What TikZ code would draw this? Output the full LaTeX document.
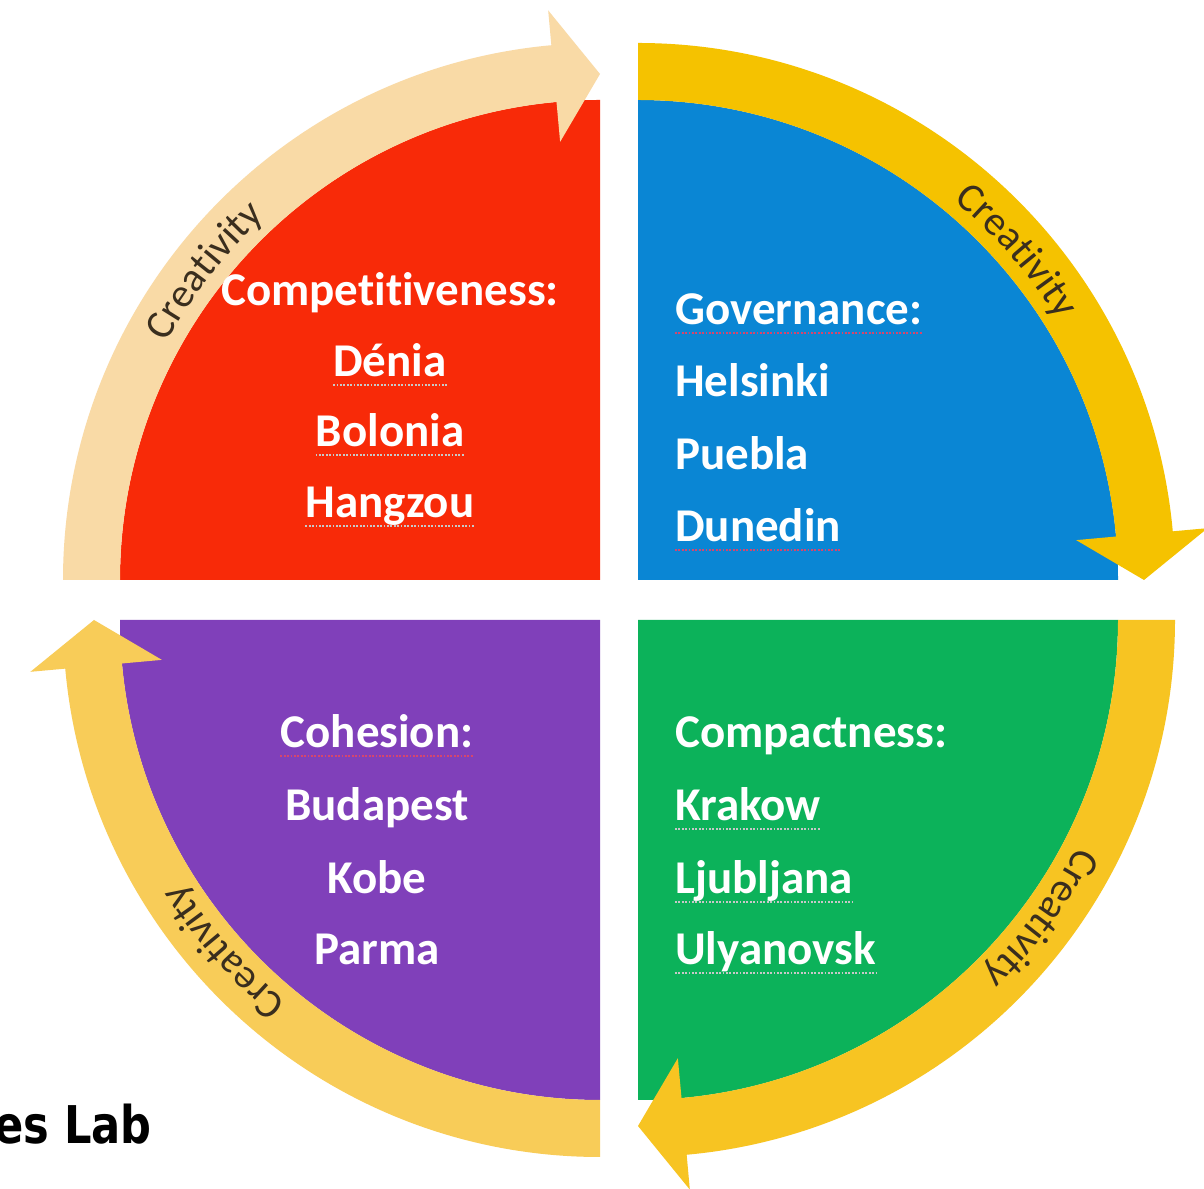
\documentclass[tikz,border=0pt]{standalone}
\usepackage{fontspec}
\setmainfont[Ligatures=NoCommon]{Carlito}
\newfontfamily\labfont[FakeStretch=0.83]{DejaVu Sans}
\usetikzlibrary{decorations.text,calc}
\definecolor{qred}{RGB}{248,42,8}
\definecolor{qblue}{RGB}{10,134,212}
\definecolor{qgreen}{RGB}{12,178,90}
\definecolor{qpurple}{RGB}{128,64,186}
\definecolor{bandcream}{RGB}{249,218,166}
\definecolor{bandgoldA}{RGB}{245,194,0}
\definecolor{bandgoldB}{RGB}{247,196,34}
\definecolor{bandgoldC}{RGB}{248,204,88}
\definecolor{crtext}{RGB}{58,46,30}
\definecolor{sqred}{RGB}{214,70,110}
\definecolor{sqgray}{RGB}{200,200,200}
\newcommand\crfont{\fontsize{41}{41}\selectfont\color{crtext}}
\newcommand\creaband[3]{%
  \begin{scope}[shift={(#1)}]
    \fill[#3] ({#2}:537) arc[start angle={#2}, end angle={#2-84.8}, radius=537]
      -- ({#2-84.8}:572) -- ({#2-90}:506) -- ({#2-84.8}:440)
      -- ({#2-84.8}:480) arc[start angle={#2-84.8}, end angle={#2}, radius=480] -- cycle;
  \end{scope}}
\newcommand\creatext[2]{%
  \begin{scope}[shift={(#1)}]
    \path[decorate,decoration={text along path,text align=center,text={|\crfont|Creativity}}]
      ({#2+17}:494) arc[start angle={#2+17}, end angle={#2-17}, radius=494];
  \end{scope}}
\begin{document}
\begin{tikzpicture}[x=1pt,y=1pt,
  lbl/.style={text=white,inner sep=0pt,font=\fontsize{47}{56}\selectfont\bfseries},
  sqr/.style={draw=sqred,line width=1.8pt,dash pattern=on 1.8pt off 1.6pt},
  sqg/.style={draw=sqgray,line width=1.8pt,dash pattern=on 1.8pt off 1.6pt}]
\useasboundingbox (0,0) rectangle (1204,1188);
\fill[white] (0,0) rectangle (1204,1188);
\coordinate (cTL) at (600,608);
\coordinate (cTR) at (638,608);
\coordinate (cBR) at (638,568);
\coordinate (cBL) at (600,568);
% quadrants
\fill[qred] (cTL) -- ++(180:480) arc[start angle=180,end angle=90,radius=480] -- cycle;
\fill[qblue] (cTR) -- ++(90:480) arc[start angle=90,end angle=0,radius=480] -- cycle;
\fill[qgreen] (cBR) -- ++(0:480) arc[start angle=0,end angle=-90,radius=480] -- cycle;
\fill[qpurple] (cBL) -- ++(270:480) arc[start angle=270,end angle=180,radius=480] -- cycle;
% bands
\creaband{cTL}{180}{bandcream}
\creaband{cTR}{90}{bandgoldA}
\creaband{cBR}{0}{bandgoldB}
\creaband{cBL}{270}{bandgoldC}
% creativity labels
\creatext{cTL}{142}
\creatext{cTR}{41}
\creatext{cBR}{-36.5}
\creatext{cBL}{221.4}
% red quadrant
\node[lbl,anchor=base] (r0) at (390,882) {Competitiveness:};
\node[lbl,anchor=base] (r1) at (390,811) {Dénia};
\node[lbl,anchor=base] (r2) at (390,741) {Bolonia};
\node[lbl,anchor=base] (r3) at (390,670) {Hangzou};
% blue quadrant
\node[lbl,anchor=base west] (b0) at (675,863) {Governance:};
\node[lbl,anchor=base west] (b1) at (675,791) {Helsinki};
\node[lbl,anchor=base west] (b2) at (675,718) {Puebla};
\node[lbl,anchor=base west] (b3) at (675,646) {Dunedin};
% green quadrant
\node[lbl,anchor=base west] (g0) at (675,440) {Compactness:};
\node[lbl,anchor=base west] (g1) at (675,367) {Krakow};
\node[lbl,anchor=base west] (g2) at (675,294) {Ljubljana};
\node[lbl,anchor=base west] (g3) at (675,223) {Ulyanovsk};
% purple quadrant
\node[lbl,anchor=base] (p0) at (377,440) {Cohesion:};
\node[lbl,anchor=base] (p1) at (377,367) {Budapest};
\node[lbl,anchor=base] (p2) at (377,294) {Kobe};
\node[lbl,anchor=base] (p3) at (377,223) {Parma};
% spell-check underlines
\foreach \n in {b0,b3,p0}
  \draw[sqr] ([yshift=-8]\n.base west) -- ([yshift=-8]\n.base east);
\foreach \n in {r1,r2,r3,g1,g2,g3}
  \draw[sqg] ([yshift=-8]\n.base west) -- ([yshift=-8]\n.base east);
% caption fragment
\node[inner sep=0pt,anchor=base east,font=\labfont\bfseries\fontsize{52}{60}\selectfont] (lab) at (152,45) {es Lab};
\end{tikzpicture}
\end{document}
